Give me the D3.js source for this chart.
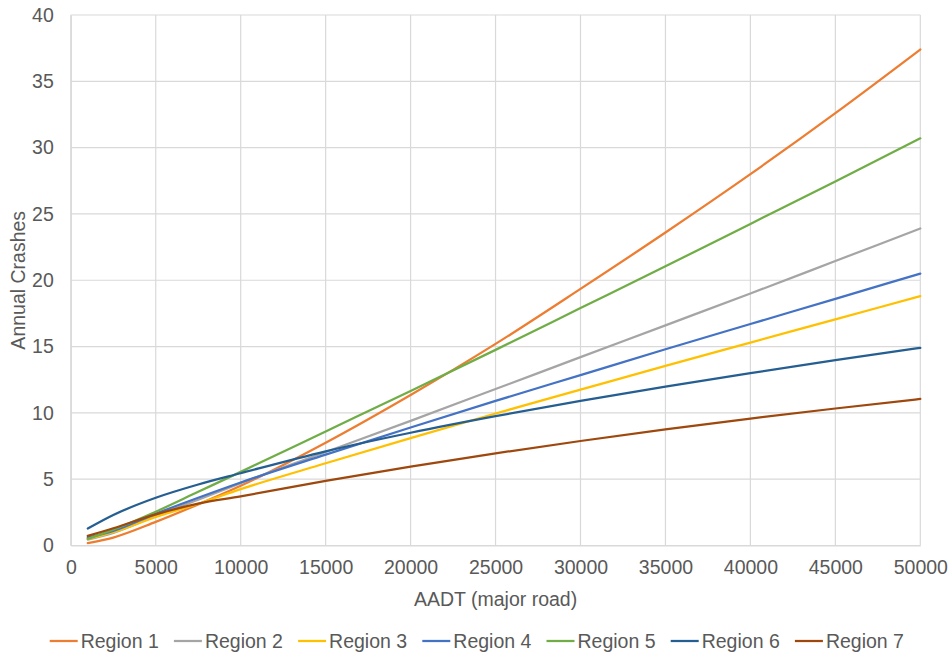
<!DOCTYPE html>
<html>
<head>
<meta charset="utf-8">
<script src="https://cdn.jsdelivr.net/npm/d3@7"></script>
<style>
  html, body { margin: 0; padding: 0; background: #ffffff; }
  svg { display: block; font-family: "Liberation Sans", Arial, sans-serif; }
</style>
</head>
<body>
<svg id="chart" width="951" height="657"></svg>
<script>
const aadt = [1000, 2500, 5000, 7500, 10000, 15000, 20000, 25000, 30000, 35000, 40000, 45000, 50000];
const region1 = [0.18, 0.6, 1.78, 3.1, 4.5, 7.75, 11.35, 15.2, 19.35, 23.6, 28.0, 32.6, 37.4];
const region2 = [0.45, 0.95, 2.25, 3.45, 4.7, 7.05, 9.4, 11.8, 14.2, 16.6, 19.0, 21.45, 23.9];
const region3 = [0.5, 1.0, 2.15, 3.15, 4.25, 6.2, 8.1, 9.95, 11.75, 13.55, 15.3, 17.05, 18.8];
const region4 = [0.6, 1.1, 2.4, 3.6, 4.75, 6.85, 8.9, 10.9, 12.85, 14.8, 16.7, 18.6, 20.5];
const region5 = [0.5, 1.2, 2.55, 4.05, 5.55, 8.6, 11.65, 14.75, 17.9, 21.05, 24.25, 27.45, 30.7];
const region6 = [1.28, 2.3, 3.6, 4.6, 5.45, 7.1, 8.5, 9.75, 10.9, 11.98, 13.0, 13.97, 14.9];
const region7 = [0.73, 1.3, 2.35, 3.15, 3.7, 4.88, 5.95, 6.95, 7.88, 8.75, 9.57, 10.33, 11.05];
const seriesNames = ["Region 1", "Region 2", "Region 3", "Region 4", "Region 5", "Region 6", "Region 7"];
const seriesColors = ["#ED7D31", "#A5A5A5", "#FFC000", "#4472C4", "#70AD47", "#255E91", "#9E480E"];
const xTicks = [0, 5000, 10000, 15000, 20000, 25000, 30000, 35000, 40000, 45000, 50000];
const yTicks = [0, 5, 10, 15, 20, 25, 30, 35, 40];
const xTitle = "AADT (major road)";
const yTitle = "Annual Crashes";

const seriesValues = [region1, region2, region3, region4, region5, region6, region7];

const svg = d3.select("#chart");
const plot = { left: 70.8, right: 920.3, top: 15, bottom: 545.5 };
const textColor = "#595959";
const gridColor = "#d9d9d9";
const fontSize = 19.5;

const x = d3.scaleLinear().domain([0, 50000]).range([plot.left, plot.right]);
const y = d3.scaleLinear().domain([0, 40]).range([plot.bottom, plot.top]);

// gridlines
const g = svg.append("g");
g.selectAll(".hgrid").data(yTicks).join("line")
  .attr("x1", plot.left).attr("x2", plot.right)
  .attr("y1", d => y(d)).attr("y2", d => y(d))
  .attr("stroke", gridColor).attr("stroke-width", 1.2);
g.selectAll(".vgrid").data(xTicks).join("line")
  .attr("x1", d => x(d)).attr("x2", d => x(d))
  .attr("y1", plot.top).attr("y2", plot.bottom)
  .attr("stroke", gridColor).attr("stroke-width", 1.2);

// axes using d3 axis generators
const xAxis = d3.axisBottom(x).tickValues(xTicks).tickSize(0).tickPadding(15).tickFormat(d3.format("d"));
const yAxis = d3.axisLeft(y).tickValues(yTicks).tickSize(0).tickPadding(17).tickFormat(d3.format("d"));

const gx = svg.append("g").attr("transform", `translate(0,${plot.bottom})`).call(xAxis);
gx.select(".domain").attr("stroke", gridColor).attr("stroke-width", 1.2);
gx.selectAll("text").attr("fill", textColor).attr("font-size", fontSize)
  .attr("font-family", "Liberation Sans, Arial, sans-serif");

const gy = svg.append("g").attr("transform", `translate(${plot.left},0)`).call(yAxis);
gy.select(".domain").attr("stroke", gridColor).attr("stroke-width", 1.2);
gy.selectAll("text").attr("fill", textColor).attr("font-size", fontSize)
  .attr("font-family", "Liberation Sans, Arial, sans-serif");

// axis titles
svg.append("text")
  .attr("x", (plot.left + plot.right) / 2).attr("y", 606)
  .attr("text-anchor", "middle").attr("fill", textColor).attr("font-size", fontSize)
  .text(xTitle);
svg.append("text")
  .attr("transform", `translate(25,${(plot.top + plot.bottom) / 2}) rotate(-90)`)
  .attr("text-anchor", "middle").attr("fill", textColor).attr("font-size", fontSize)
  .text(yTitle);

// lines
const line = d3.line()
  .x(d => x(d[0])).y(d => y(d[1]))
  .curve(d3.curveMonotoneX);
seriesValues.forEach((vals, i) => {
  const pts = aadt.map((a, j) => [a, vals[j]]);
  svg.append("path").datum(pts)
    .attr("d", line)
    .attr("fill", "none")
    .attr("stroke", seriesColors[i])
    .attr("stroke-width", 2.25)
    .attr("stroke-linejoin", "round")
    .attr("stroke-linecap", "round");
});

// legend
const legend = svg.append("g");
const legY = 641;
seriesNames.forEach((name, i) => {
  const x0 = 49.7 + i * 124.2;
  legend.append("line")
    .attr("x1", x0).attr("x2", x0 + 28)
    .attr("y1", legY).attr("y2", legY)
    .attr("stroke", seriesColors[i]).attr("stroke-width", 2.25);
  legend.append("text")
    .attr("x", x0 + 31).attr("y", legY + 7)
    .attr("fill", textColor).attr("font-size", fontSize)
    .text(name);
});
</script>
</body>
</html>
